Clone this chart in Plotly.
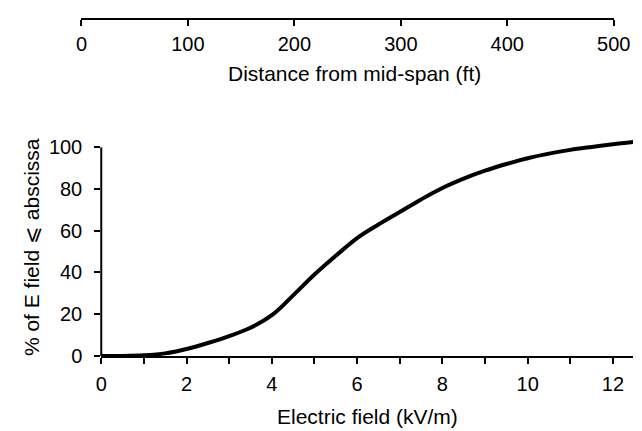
import plotly.graph_objects as go

# Data
field_kvm = [0, 0.5, 1.0, 1.5, 2.0, 2.5, 3.0, 3.5, 4.0, 4.5, 5.0, 5.5, 6.0, 6.5,
             7.0, 7.5, 8.0, 8.5, 9.0, 9.5, 10.0, 10.5, 11.0, 11.5, 12.0, 12.5]
pct_below = [0, 0, 0.3, 1.2, 3.3, 6.2, 9.5, 13.5, 19.5, 29, 39, 48, 56.5, 63,
             69, 75, 80.5, 85, 88.8, 92, 94.8, 97, 98.8, 100.2, 101.5, 102.6]
x_ticks = [0, 2, 4, 6, 8, 10, 12]
y_ticks = [0, 20, 40, 60, 80, 100]
dist_ticks = [0, 100, 200, 300, 400, 500]

W, H = 642, 431
FONT = "Liberation Sans, Arial, Helvetica, sans-serif"

def px(v):
    return v / W

def py(v):
    return 1 - v / H

fig = go.Figure()
fig.add_trace(go.Scatter(x=field_kvm, y=pct_below, mode="lines",
                         line=dict(color="black", width=4, shape="spline"),
                         hoverinfo="skip", showlegend=False))
# invisible trace to carry the top distance axis
fig.add_trace(go.Scatter(x=[dist_ticks[0], dist_ticks[-1]], y=[0, 0], mode="markers",
                         marker=dict(opacity=0), xaxis="x2", yaxis="y2",
                         hoverinfo="skip", showlegend=False))

def axis_style(standoff):
    return dict(showgrid=False, zeroline=False, ticks="outside", ticklen=6,
                tickwidth=2, tickcolor="black", linecolor="black", linewidth=2,
                ticklabelstandoff=standoff,
                tickfont=dict(family=FONT, size=20, color="black"))

fig.update_layout(
    width=W, height=H, margin=dict(l=0, r=0, t=0, b=0),
    paper_bgcolor="white", plot_bgcolor="white",
    font=dict(family=FONT, color="black"),
    xaxis=dict(domain=[px(90.5), 1], range=[0, 12.47], anchor="y", showline=True,
               tickvals=x_ticks, minor=dict(dtick=1, ticks="outside", ticklen=6,
                                            tickwidth=2, tickcolor="black"),
               **axis_style(3)),
    yaxis=dict(domain=[py(357), py(132.3)], range=[0, 105], anchor="x",
               showline=False, tickvals=y_ticks, **axis_style(8)),
    xaxis2=dict(domain=[px(70), px(622)], range=[0, 500], anchor="y2", showline=True,
                tickvals=dist_ticks, **axis_style(1)),
    yaxis2=dict(domain=[py(10.5), py(3)], range=[0, 1], anchor="x2", visible=False),
    shapes=[dict(type="line", xref="x domain", yref="y", x0=0, x1=0, y0=0, y1=100,
                 line=dict(color="black", width=2))],
    annotations=[
        dict(text="Distance from mid-span (ft)", xref="paper", yref="paper",
             x=px(353), y=py(67), showarrow=False, xanchor="center", yanchor="middle",
             font=dict(family=FONT, size=21, color="black")),
        dict(text="Electric field (kV/m)", xref="paper", yref="paper",
             x=px(367), y=py(419), showarrow=False, xanchor="center", yanchor="middle",
             font=dict(family=FONT, size=21, color="black")),
        dict(text="% of E field \u2a7d abscissa", xref="paper", yref="paper",
             x=px(18), y=py(245), showarrow=False, textangle=-90,
             xanchor="center", yanchor="middle",
             font=dict(family=FONT, size=21, color="black")),
    ],
)

fig.write_html("out.html")
